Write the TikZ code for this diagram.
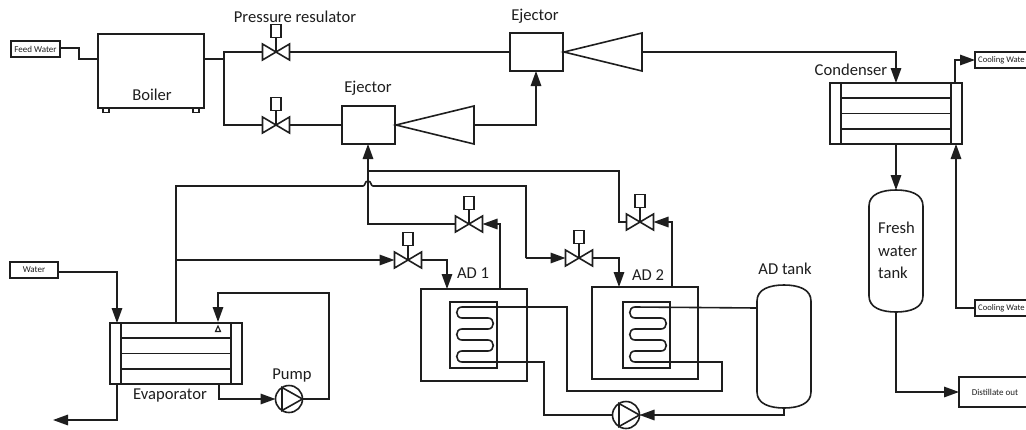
\documentclass[tikz,border=0pt]{standalone}
\usepackage{fontspec}
\setmainfont{Carlito}
\usetikzlibrary{arrows.meta,calc}
\definecolor{ink}{HTML}{1E1E1E}
\tikzset{
  pipe/.style={draw=ink,line width=1.6pt,line join=miter},
  flow/.style={pipe,-{Triangle[length=15pt,width=10.5pt]}},
  ghost/.style={inner sep=0pt,outer sep=0pt,minimum width=27pt,minimum height=16pt},
  lab/.style={text=ink,font=\fontsize{16.6}{18}\selectfont,inner sep=0pt},
  tiny/.style={text=ink,font=\fontsize{9}{10}\selectfont},
  tag/.style={draw=ink,line width=1.7pt,inner sep=0pt,outer sep=0pt},
  unit/.style={draw=ink,line width=1.6pt,inner sep=0pt,outer sep=0pt},
}
\newcommand{\valvesym}[3]{%
  \node[ghost] (#1) at (#2,#3) {};
  \draw[pipe] (#1.north west) -- (#1.south east) -- (#1.north east) -- (#1.south west) -- cycle;
  \node[unit,minimum width=10pt,minimum height=13pt] (#1act) at (#2,#3-21) {};
  \draw[pipe] (#1act.south) -- (#1.center);
}
\newcommand{\conesym}[3]{%
  \node[inner sep=0pt,outer sep=0pt,minimum width=78pt,minimum height=38pt] (#1) at (#2+39,#3) {};
  \draw[pipe] (#1.west) -- (#1.north east) -- (#1.south east) -- cycle;
}
\newcommand{\hxsym}[3]{%
  \node[unit,minimum width=132pt,minimum height=61pt] (#1) at (#2,#3) {};
  \draw[pipe] ($(#1.north west)+(11,0)$) -- ($(#1.south west)+(11,0)$);
  \draw[pipe] ($(#1.north east)+(-11,0)$) -- ($(#1.south east)+(-11,0)$);
  \foreach \dy in {-15.25,0,15.25}
    \draw[pipe] ($(#1.west)+(11,\dy)$) -- ($(#1.east)+(-11,\dy)$);
}
\newcommand{\pumpsym}[3]{%
  \node[unit,circle,minimum size=27pt] (#1) at (#2,#3) {};
  \draw[pipe] (#1.east) -- ($(#1.center)+(-7,-11.5)$) -- ($(#1.center)+(-7,11.5)$) -- cycle;
}
\newcommand{\vesselsym}[6]{% name, left, right, top, bottom, shoulder
  \node[inner sep=0pt,outer sep=0pt,minimum width=#3pt-#2pt,minimum height=#5pt-#4pt] (#1) at ({(#2+#3)/2},{(#4+#5)/2}) {};
  \draw[pipe] (#2,#4+#6) .. controls (#2,#4+4) and ({(#2+#3)/2-14},#4) .. (#1.north)
    .. controls ({(#2+#3)/2+14},#4) and (#3,#4+4) .. (#3,#4+#6)
    -- (#3,#5-#6) .. controls (#3,#5-4) and ({(#2+#3)/2+14},#5) .. (#1.south)
    .. controls ({(#2+#3)/2-14},#5) and (#2,#5-4) .. (#2,#5-#6) -- cycle;
}
\newcommand{\coilsym}[3]{% name, left, right
  \draw[pipe] (#2+6,307) .. controls (#2-1,307) and (#2-1,318) .. (#2+6,318) -- (#3-6,318)
    .. controls (#3+1,318) and (#3+1,329) .. (#3-6,329) -- (#2+6,329)
    .. controls (#2-1,329) and (#2-1,340) .. (#2+6,340) -- (#3-6,340)
    .. controls (#3+1,340) and (#3+1,351) .. (#3-6,351) -- (#2+6,351)
    .. controls (#2-1,351) and (#2-1,362) .. (#2+6,362);
  \coordinate (#1top) at (#2+6,307);
  \coordinate (#1bot) at (#2+6,362);
}
\begin{document}
\begin{tikzpicture}[x=1pt,y=-1pt]
\useasboundingbox (0,0) rectangle (1026,429);
\fill[white] (0,0) rectangle (1026,429);

% boxes
\node[tag,minimum width=49pt,minimum height=16pt] (feed) at (35.5,49) {};
\node[tiny] at (feed.center) {Feed Water};
\node[unit,minimum width=106pt,minimum height=74pt] (boiler) at (151,71) {};
\node[lab,anchor=center] (boilerlab) at (152,95) {Boiler};
\node[draw=ink,line width=1.1pt,inner sep=0pt,minimum width=6pt,minimum height=4pt] (footl) at (106,110.5) {};
\node[draw=ink,line width=1.1pt,inner sep=0pt,minimum width=6pt,minimum height=4pt] (footr) at (196,110.5) {};
\coordinate (bin) at (98,59);
\coordinate (bout) at (204,59);
\coordinate (split) at (224,59);

\valvesym{v1}{276}{52}
\valvesym{v2}{276}{125}
\valvesym{v3}{408}{260}
\valvesym{v4}{469}{224}
\valvesym{v5}{579}{258}
\valvesym{v6}{640}{222}
\node[lab] (prlab) at (295,17) {Pressure resulator};

\node[unit,minimum width=53pt,minimum height=38pt] (ej1) at (536.5,52) {};
\node[unit,minimum width=53pt,minimum height=38pt] (ej2) at (368.5,125) {};
\node[lab] (ej1lab) at (535,16) {Ejector};
\node[lab] (ej2lab) at (368,88) {Ejector};
\conesym{c1}{564}{52}
\conesym{c2}{396}{125}

\hxsym{cond}{896}{113.5}
\node[lab] (condlab) at (851,70) {Condenser};
\hxsym{evap}{176}{353.5}
\node[lab] (evaplab) at (170,396) {Evaporator};

\vesselsym{fresh}{869}{923}{190}{312}{16}
\node[lab,align=left,anchor=west] (freshlab) at (878,228) {Fresh};
\node[lab,align=left,anchor=west] (waterlab) at (878,251) {water};
\node[lab,align=left,anchor=west] (tanklab) at (878,273) {tank};
\vesselsym{adt}{757}{811}{285}{408}{16}
\node[lab] (adtlab) at (785,269) {AD tank};

\node[unit,minimum width=106pt,minimum height=92pt] (ad1) at (474,335) {};
\node[unit,minimum width=106pt,minimum height=92pt] (ad2) at (645,333) {};
\node[unit,minimum width=47pt,minimum height=66pt] (in1) at (473.5,335) {};
\node[unit,minimum width=47pt,minimum height=66pt] (in2) at (646.5,335) {};
\node[lab] (ad1lab) at (473,273) {AD 1};
\node[lab] (ad2lab) at (648,275) {AD 2};
\coilsym{k1}{456}{494}
\coilsym{k2}{629}{667}

\pumpsym{p1}{289}{399}
\pumpsym{p2}{626}{415}
\node[lab] (pumplab) at (292,376) {Pump};

\node[tag,minimum width=48pt,minimum height=16pt] (water) at (34,270) {};
\node[tiny] at (water.center) {Water};

\node[tag,anchor=north west,minimum width=54pt,minimum height=16pt] (cw1) at (975,52) {};
\node[text=ink,font=\fontsize{8.6}{10}\selectfont,inner sep=0pt,anchor=west] at (978,60) {Cooling Wate};
\node[tag,anchor=north west,minimum width=54pt,minimum height=16pt] (cw2) at (975,300) {};
\node[text=ink,font=\fontsize{8.6}{10}\selectfont,inner sep=0pt,anchor=west] at (978,308) {Cooling Wate};
\node[unit,anchor=north west,minimum width=70pt,minimum height=30pt] (dist) at (959,377) {};
\node[tiny] at (995,392) {Distillate out};

% named ends
\coordinate (ej2in) at (368,144);
\coordinate (ej1in) at (536,71);
\coordinate (condtop) at (896,83);
\coordinate (condbot) at (896,144);
\coordinate (condoutl) at (955,83);
\coordinate (condinl) at (956,144);
\coordinate (evin) at (117,323);
\coordinate (evout) at (117,384);
\coordinate (evbr) at (219,384);
\coordinate (evtop) at (176,323);
\coordinate (evnoz) at (218,322);
\coordinate (ad1a) at (447,289);
\coordinate (ad1b) at (500,289);
\coordinate (ad2a) at (619,287);
\coordinate (ad2b) at (672,287);
\coordinate (drain) at (53,420);
\coordinate (tankin) at (757,308);
\coordinate (tankbot) at (784,408);

% connectors
\draw[pipe] (feed.east |- 0,48) -- (79,48) |- (bin);
\draw[pipe] (bout) -- (split);
\draw[pipe] (v1.west) -| (split) |- (v2.west);
\draw[pipe] (v1.east) -- (v1.east -| ej1.west);
\draw[pipe] (v2.east) -- (ej2.west);
\draw[flow] (c1.east) -| (condtop);
\draw[flow] (c2.east) -| (ej1in);
\draw[flow] (condbot) -- (fresh.north);
\draw[flow] (condoutl) |- (cw1.west);
\draw[flow] (cw2.west) -| (condinl);
\draw[flow] (fresh.south) |- (dist.west);

% ejector suction lines
\draw[flow] (v4.west) -| (ej2in);
\draw[pipe] (368,171) -| (619,222) -- (v6.west);
% steam line from the evaporator, jumping over the suction line
\draw[pipe] (evtop) |- (363,186) .. controls (365.5,186) and (364.5,181) .. (368,181)
   .. controls (371.5,181) and (370.5,186) .. (373,186) -| (526,258);
\draw[flow] (526,258) -- (v5.west);
\draw[flow] (176,260) -- (v3.west);
\draw[flow] (v3.east) -| (ad1a);
\draw[flow] (v5.east) -| (ad2a);
\draw[flow] (ad1b) |- (v4.east);
\draw[flow] (ad2b) |- (v6.east);

% evaporator
\draw[flow] (water.east |- 0,272) -| (evin);
\draw[flow] (evout) |- (drain);
\draw[flow] (evbr) |- (p1.west);
\draw[flow] (p1.east) -| (329,293) -| (evnoz);
\draw[line width=1.1pt,draw=ink] (218,326) -- (220.5,331.5) -- (215.5,331.5) -- cycle;

% adsorbent bed water circuit
\draw[pipe] (k1top) -- (567,307) |- (722,391) |- (k2bot);
\draw[pipe] (k2top) -- (tankin);
\draw[pipe] (k1bot) -- (544,362) |- (p2.west);
\draw[flow] (tankbot) |- (p2.east);
\end{tikzpicture}
\end{document}
